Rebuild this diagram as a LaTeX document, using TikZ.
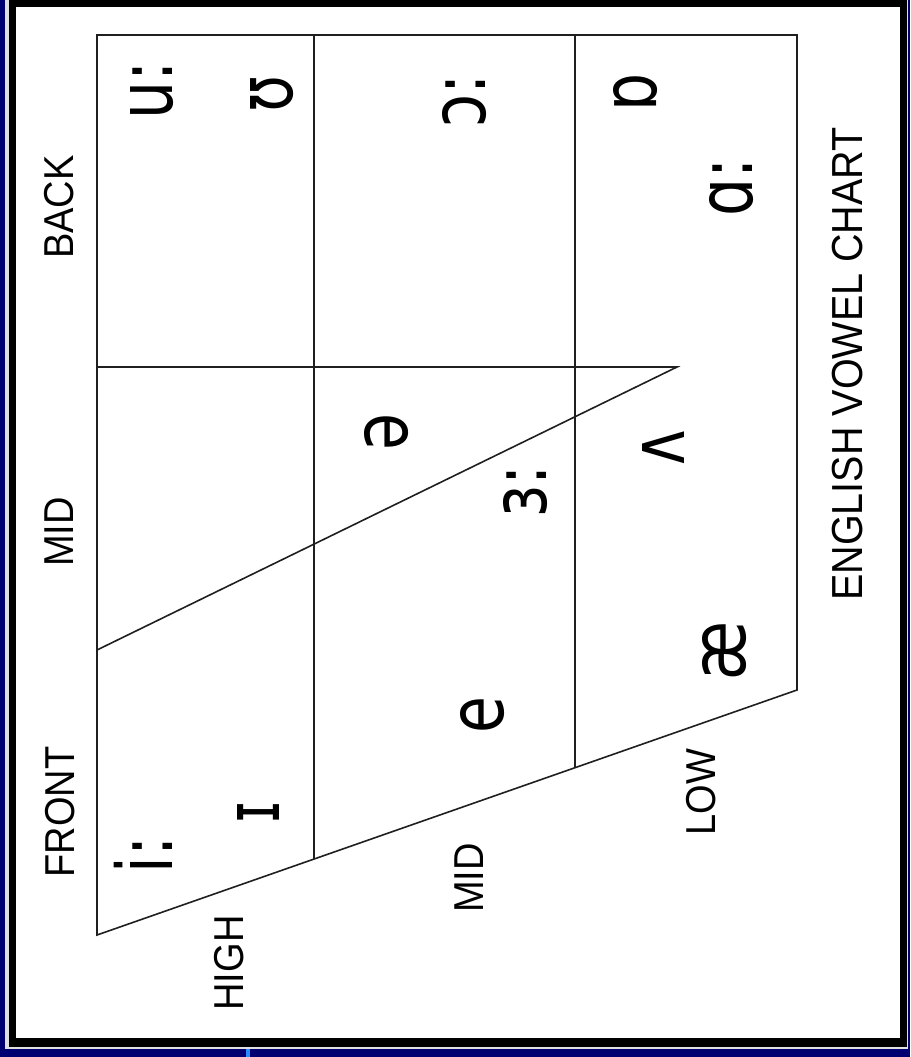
\documentclass[tikz,border=0pt]{standalone}
\usepackage{fontspec}
\usepackage{graphicx}
\usetikzlibrary{calc}
\setmainfont{Liberation Sans}
\newfontfamily\ipafont{DejaVu Sans}
\definecolor{bgnavy}{RGB}{0,0,112}
\definecolor{tickblue}{RGB}{40,140,255}
\newcommand\lblst[1]{\scalebox{1}[1.1]{#1}}
\newcommand\vowst[1]{\scalebox{1}[1.28]{#1}}
\begin{document}
\begin{tikzpicture}[x=1pt,y=-1pt,
  lbl/.style={rotate=90, inner sep=0pt, font=\fontsize{38}{40}\selectfont},
  ttl/.style={rotate=90, inner sep=0pt, font=\fontsize{39.5}{42}\selectfont},
  vow/.style={rotate=90, inner sep=0pt, font=\ipafont\fontsize{60}{64}\selectfont},
  gridline/.style={line width=1.6pt, black!88}]
\useasboundingbox (0,0) rectangle (910,1057);
% frame
\fill[bgnavy] (0,0) rectangle (910,1057);
\fill[black!12] (5,0) rectangle (908,1049);
\fill[black] (9,0) rectangle (907,1047);
\fill[white] (16,7) rectangle (900,1038);
\fill[tickblue] (246,1049) rectangle (250,1057);
% chart corners
\coordinate (A) at (97,35);
\coordinate (B) at (797,35);
\coordinate (C) at (797,690);
\coordinate (D) at (97,935);
\coordinate (T1) at (314,35);
\coordinate (T2) at (575,35);
\coordinate (L1) at (97,367);
\coordinate (L2) at (97,650);
\coordinate (Tip) at (677,367);
\coordinate (B1) at ($(D)!0.31!(C)$);
\coordinate (B2) at ($(D)!0.682857!(C)$);
\draw[gridline] (D) -- (A) -- (B) -- (C) -- cycle;
\draw[gridline] (T1) -- (B1);
\draw[gridline] (T2) -- (B2);
\draw[gridline] (L1) -- (Tip) -- (L2);
% axis labels
\node[lbl] (back) at (59,207) {\lblst{BACK}};
\node[lbl] (midtop) at (59,532) {\lblst{MID}};
\node[lbl] (front) at (60,812) {\lblst{FRONT}};
\node[lbl] (high) at (229,963) {\lblst{HIGH}};
\node[lbl] (midlow) at (469,878) {\lblst{MID}};
\node[lbl] (low) at (701,792) {\lblst{LOW}};
\node[ttl] (title) at (848,364) {\lblst{ENGLISH VOWEL CHART}};
% vowels
\node[vow] (uu) at (152,90) {\vowst{u:}};
\node[vow] (upsilon) at (272,94) {\vowst{ʊ}};
\node[vow] (oo) at (465,101) {\vowst{ɔ:}};
\node[vow] (turneda) at (636,92) {\vowst{ɒ}};
\node[vow] (aa) at (732,187) {\vowst{ɑ:}};
\node[vow] (schwa) at (387,432) {\vowst{ə}};
\node[vow] (er) at (526,491) {\vowst{ɜ:}};
\node[vow] (wedge) at (663,448) {\vowst{ʌ}};
\node[vow] (ash) at (725,651) {\vowst{æ}};
\node[vow] (ee) at (483,715) {\vowst{e}};
\node[vow] (smalli) at (258,812) {\vowst{ɪ}};
\node[vow] (ii) at (143,855) {\vowst{i:}};
\end{tikzpicture}
\end{document}
